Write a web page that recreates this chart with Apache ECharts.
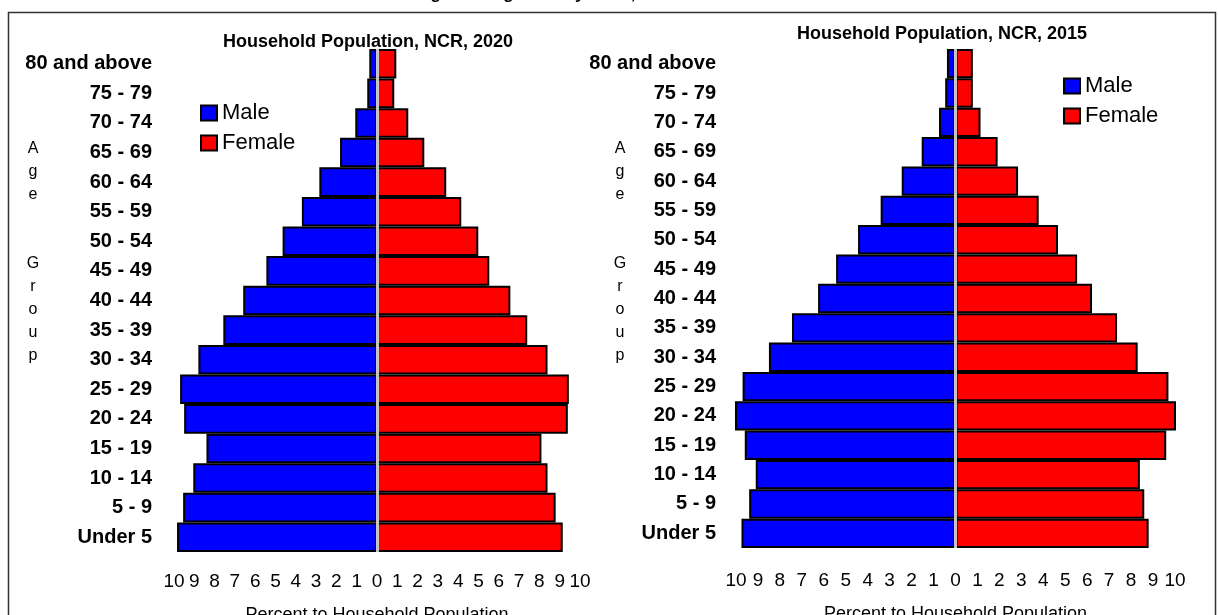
<!DOCTYPE html>
<html>
<head>
<meta charset="utf-8">
<title>Household Population, NCR</title>
<script src="https://cdn.jsdelivr.net/npm/echarts@6/dist/echarts.min.js"></script>
<style>
	html, body { margin: 0; padding: 0; background: #fff; }
	#chart { width: 1218px; height: 615px; }
</style>
</head>
<body>
<div id="chart"></div>
<script>
// age groups, bottom to top
var ageGroups = ['Under 5', '5 - 9', '10 - 14', '15 - 19', '20 - 24', '25 - 29', '30 - 34', '35 - 39',
	'40 - 44', '45 - 49', '50 - 54', '55 - 59', '60 - 64', '65 - 69', '70 - 74', '75 - 79', '80 and above'];

// percent to household population
var male2020 = [9.85, 9.55, 9.05, 8.4, 9.5, 9.7, 8.8, 7.57, 6.59, 5.45, 4.65, 3.7, 2.84, 1.82, 1.07, 0.48, 0.38];
var female2020 = [9.15, 8.8, 8.4, 8.1, 9.4, 9.45, 8.4, 7.4, 6.57, 5.53, 4.99, 4.15, 3.41, 2.33, 1.54, 0.85, 0.95];
var male2015 = [9.75, 9.4, 9.1, 9.6, 10.1, 9.7, 8.5, 7.45, 6.26, 5.44, 4.44, 3.41, 2.45, 1.54, 0.75, 0.47, 0.39];
var female2015 = [8.8, 8.6, 8.4, 9.6, 10.1, 9.7, 8.3, 7.36, 6.22, 5.54, 4.67, 3.79, 2.85, 1.92, 1.14, 0.79, 0.79];

var titles = ['Household Population, NCR, 2020', 'Household Population, NCR, 2015'];
var xName = 'Percent to Household Population';

var font = 'Liberation Sans';
var myChart = echarts.init(document.getElementById('chart'));

function xAxisFor(idx, margin, gap) {
	return {
		gridIndex: idx,
		type: 'value',
		min: -10,
		max: 10,
		interval: 1,
		axisLine: {show: false},
		axisTick: {show: false},
		splitLine: {show: false},
		axisLabel: {
			margin: margin,
			fontFamily: font,
			fontSize: 19,
			color: '#000',
			formatter: function (v) { return Math.abs(v); }
		},
		name: xName,
		nameLocation: 'middle',
		nameGap: gap,
		nameTextStyle: {fontFamily: font, fontSize: 18, color: '#000'}
	};
}

function yAxisFor(idx, margin) {
	return {
		gridIndex: idx,
		type: 'category',
		data: ageGroups,
		axisLine: {show: false, onZero: false},
		axisTick: {show: false},
		axisLabel: {margin: margin, fontFamily: font, fontSize: 20, fontWeight: 'bold', color: '#000'}
	};
}

function barSeries(name, color, values, idx, sign, withLine) {
	var s = {
		name: name,
		type: 'bar',
		stack: 'pyr' + idx,
		xAxisIndex: idx,
		yAxisIndex: idx,
		barCategoryGap: '0%',
		clip: true,
		itemStyle: {color: color, borderColor: '#000', borderWidth: 2},
		data: values.map(function (v) { return sign * v; })
	};
	if (withLine) {
		// light centre line at zero
		s.markLine = {
			silent: true,
			symbol: ['none', 'none'],
			label: {show: false},
			lineStyle: {color: '#c4c4c4', width: 3, type: 'solid'},
			data: [{xAxis: 0}]
		};
	}
	return s;
}

function legendFor(left, top) {
	return {
		orient: 'vertical',
		left: left,
		top: top,
		padding: 0,
		itemWidth: 16,
		itemHeight: 15,
		itemGap: 8,
		icon: 'rect',
		textStyle: {fontFamily: font, fontSize: 22, color: '#000'},
		data: ['Male', 'Female']
	};
}

var ageText = 'A\ng\ne\n\n\nG\nr\no\nu\np';

var option = {
	animation: false,
	backgroundColor: '#fff',
	title: [
		{text: titles[0], left: 363, top: 28, textAlign: 'center',
			textStyle: {fontFamily: font, fontSize: 18, fontWeight: 'bold', color: '#000'}},
		{text: titles[1], left: 937, top: 20, textAlign: 'center',
			textStyle: {fontFamily: font, fontSize: 18, fontWeight: 'bold', color: '#000'}}
	],
	legend: [legendFor(200, 102), legendFor(1063, 75)],
	grid: [
		{left: 174, width: 406, top: 49, height: 503, outerBoundsMode: 'none'},
		{left: 736, width: 439, top: 49, height: 499, outerBoundsMode: 'none'}
	],
	xAxis: [xAxisFor(0, 20, 54), xAxisFor(1, 23, 57)],
	yAxis: [yAxisFor(0, 22), yAxisFor(1, 20)],
	series: [
		barSeries('Male', '#0000ff', male2020, 0, -1, false),
		barSeries('Female', '#ff0000', female2020, 0, 1, true),
		barSeries('Male', '#0000ff', male2015, 1, -1, false),
		barSeries('Female', '#ff0000', female2015, 1, 1, true)
	],
	graphic: [
		{type: 'rect', z: -1, shape: {x: 8.5, y: 12.5, width: 1207, height: 640},
			style: {fill: null, stroke: '#333', lineWidth: 1.5}},
		{type: 'text', left: 'center', top: -14,
			style: {text: 'Figure 2. Age-Sex Pyramid, NCR: 2015 and 2020', fontFamily: font, fontSize: 17,
				fontWeight: 'bold', fill: '#000'}},
		{type: 'text', x: 33, y: 137,
			style: {text: ageText, fontFamily: font, fontSize: 16, lineHeight: 23, align: 'center', fill: '#000'}},
		{type: 'text', x: 620, y: 137,
			style: {text: ageText, fontFamily: font, fontSize: 16, lineHeight: 23, align: 'center', fill: '#000'}}
	]
};

myChart.setOption(option);
</script>
</body>
</html>
